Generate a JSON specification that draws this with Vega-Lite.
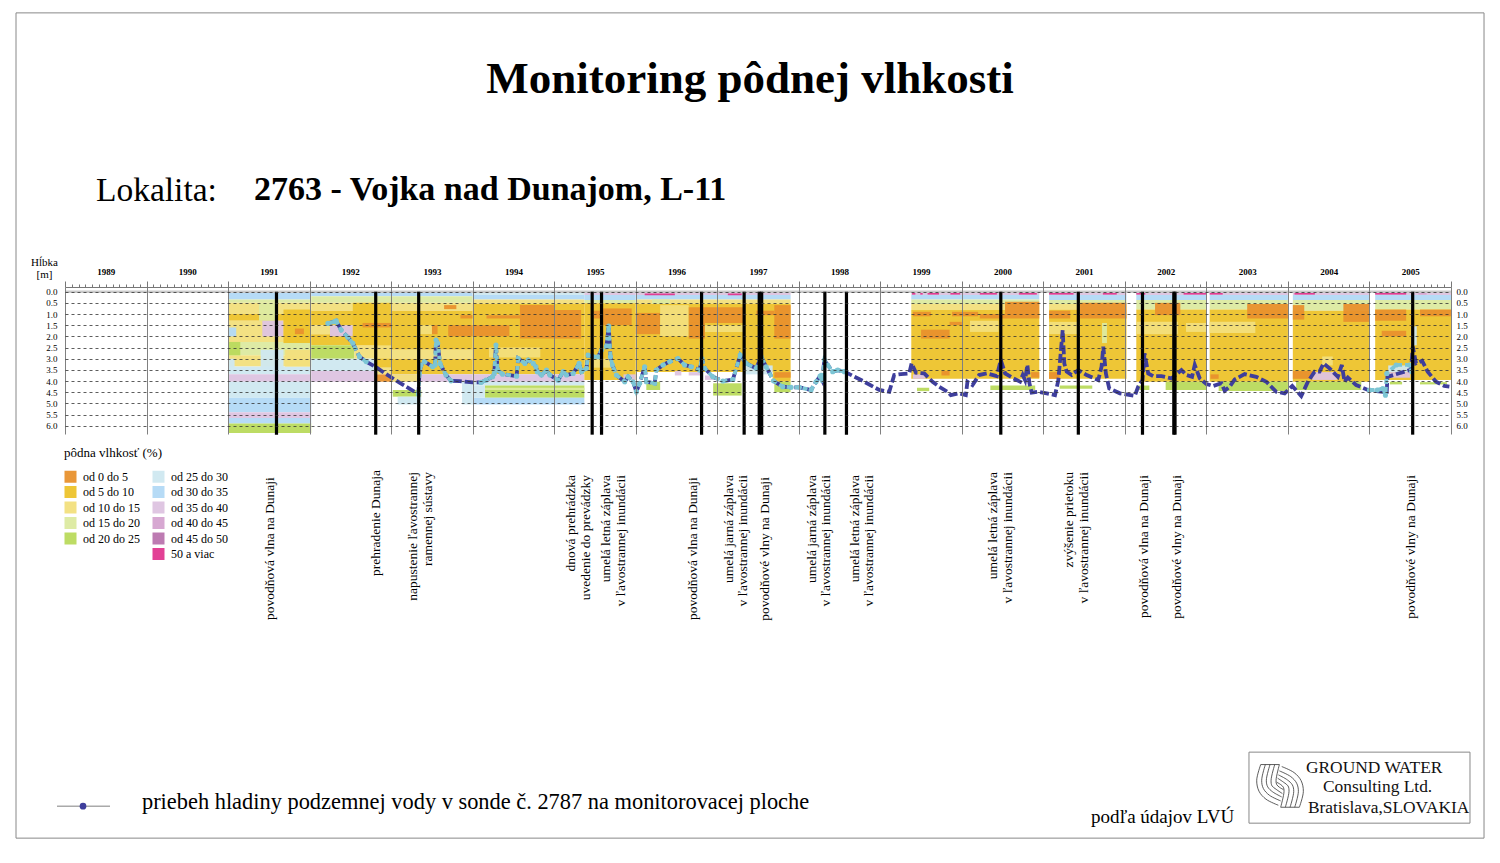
{"$schema":"https://vega.github.io/schema/vega-lite/v6.json","width":1386,"height":147,"autosize":"none","padding":{"left":65,"top":287,"right":49,"bottom":429},"background":"white","config":{"view":{"stroke":null},"font":"Liberation Serif","axis":{"labelFont":"Liberation Serif","titleFont":"Liberation Serif"},"legend":{"labelFont":"Liberation Serif","titleFont":"Liberation Serif"}},
"resolve":{"axis":{"x":"independent","y":"independent"}},
"datasets":{"hladina":[
{"year":1992.224,"depth":1.42,"seg":"a"},{"year":1992.306,"depth":1.34,"seg":"a"},{"year":1992.327,"depth":1.3,"seg":"a"},{"year":1992.388,"depth":1.72,"seg":"a"},{"year":1992.469,"depth":2.04,"seg":"a"},{"year":1992.531,"depth":2.31,"seg":"a"},{"year":1992.612,"depth":2.91,"seg":"a"},{"year":1992.694,"depth":3.13,"seg":"a"},{"year":1992.808,"depth":3.36},{"year":1992.939,"depth":3.69},{"year":1993.102,"depth":4.07},{"year":1993.335,"depth":4.58,"seg":"b"},{"year":1993.347,"depth":3.66,"seg":"b"},{"year":1993.367,"depth":3.28,"seg":"b"},{"year":1993.408,"depth":3.13,"seg":"b"},{"year":1993.51,"depth":3.36,"seg":"b"},{"year":1993.539,"depth":3.28,"seg":"b"},{"year":1993.551,"depth":2.16,"seg":"b"},{"year":1993.571,"depth":2.31,"seg":"b"},{"year":1993.6,"depth":3.21,"seg":"b"},{"year":1993.673,"depth":3.73,"seg":"b"},{"year":1993.735,"depth":3.99,"seg":"b"},{"year":1993.837,"depth":4.0},{"year":1994.0,"depth":4.06},{"year":1994.102,"depth":4.06,"seg":"c"},{"year":1994.163,"depth":3.96,"seg":"c"},{"year":1994.245,"depth":3.81,"seg":"c"},{"year":1994.265,"depth":3.66,"seg":"c"},{"year":1994.286,"depth":2.39,"seg":"c"},{"year":1994.306,"depth":3.51,"seg":"c"},{"year":1994.367,"depth":3.69,"seg":"c"},{"year":1994.539,"depth":3.78,"seg":"c"},{"year":1994.559,"depth":2.99,"seg":"c"},{"year":1994.641,"depth":3.21,"seg":"c"},{"year":1994.682,"depth":3.06,"seg":"c"},{"year":1994.743,"depth":3.21,"seg":"c"},{"year":1994.776,"depth":3.36,"seg":"c"},{"year":1994.792,"depth":3.58,"seg":"c"},{"year":1994.845,"depth":3.73,"seg":"c"},{"year":1994.906,"depth":3.51,"seg":"c"},{"year":1994.947,"depth":3.73,"seg":"c"},{"year":1995.049,"depth":3.96,"seg":"c"},{"year":1995.11,"depth":3.58,"seg":"c"},{"year":1995.151,"depth":3.73,"seg":"c"},{"year":1995.233,"depth":3.66,"seg":"c"},{"year":1995.306,"depth":3.21,"seg":"c"},{"year":1995.335,"depth":3.58,"seg":"c"},{"year":1995.396,"depth":3.43,"seg":"c"},{"year":1995.416,"depth":2.84,"seg":"c"},{"year":1995.478,"depth":2.91,"seg":"c"},{"year":1995.539,"depth":2.91,"seg":"c"},{"year":1995.58,"depth":2.61,"seg":"c"},{"year":1995.641,"depth":2.46,"seg":"c"},{"year":1995.669,"depth":1.54,"seg":"c"},{"year":1995.69,"depth":2.91,"seg":"c"},{"year":1995.714,"depth":3.28,"seg":"c"},{"year":1995.763,"depth":3.73,"seg":"c"},{"year":1995.865,"depth":4.03,"seg":"c"},{"year":1995.906,"depth":3.81,"seg":"c"},{"year":1995.967,"depth":4.03,"seg":"c"},{"year":1996.008,"depth":4.48,"seg":"c"},{"year":1996.049,"depth":4.1,"seg":"c"},{"year":1996.11,"depth":3.36,"seg":"c"},{"year":1996.131,"depth":4.03,"seg":"c"},{"year":1996.233,"depth":4.1,"seg":"c"},{"year":1996.253,"depth":3.51,"seg":"c"},{"year":1996.335,"depth":3.28,"seg":"c"},{"year":1996.416,"depth":3.13,"seg":"c"},{"year":1996.518,"depth":2.99,"seg":"c"},{"year":1996.6,"depth":3.28,"seg":"c"},{"year":1996.682,"depth":3.36,"seg":"c"},{"year":1996.784,"depth":3.51,"seg":"c"},{"year":1996.812,"depth":2.99,"seg":"c"},{"year":1996.845,"depth":3.43,"seg":"c"},{"year":1996.947,"depth":3.81,"seg":"c"},{"year":1997.069,"depth":4.0,"seg":"c"},{"year":1997.192,"depth":3.93,"seg":"c"},{"year":1997.282,"depth":2.84,"seg":"c"},{"year":1997.355,"depth":3.21,"seg":"c"},{"year":1997.478,"depth":3.43,"seg":"c"},{"year":1997.539,"depth":2.91,"seg":"c"},{"year":1997.6,"depth":3.36,"seg":"c"},{"year":1997.69,"depth":3.99,"seg":"c"},{"year":1997.804,"depth":4.25,"seg":"c"},{"year":1997.906,"depth":4.28,"seg":"c"},{"year":1998.008,"depth":4.28,"seg":"c"},{"year":1998.151,"depth":4.4,"seg":"c"},{"year":1998.212,"depth":4.03,"seg":"c"},{"year":1998.261,"depth":3.78,"seg":"c"},{"year":1998.286,"depth":3.96,"seg":"c"},{"year":1998.314,"depth":3.06,"seg":"c"},{"year":1998.355,"depth":3.28,"seg":"c"},{"year":1998.416,"depth":3.58,"seg":"c"},{"year":1998.478,"depth":3.51,"seg":"c"},{"year":1998.559,"depth":3.58,"seg":"c"},{"year":1998.784,"depth":3.99},{"year":1998.988,"depth":4.4},{"year":1999.11,"depth":4.48},{"year":1999.171,"depth":3.73},{"year":1999.253,"depth":3.69},{"year":1999.355,"depth":3.66},{"year":1999.384,"depth":3.21},{"year":1999.437,"depth":3.63},{"year":1999.539,"depth":3.66},{"year":1999.641,"depth":4.03},{"year":1999.722,"depth":4.25},{"year":1999.824,"depth":4.48},{"year":1999.865,"depth":4.63},{"year":1999.967,"depth":4.55},{"year":2000.049,"depth":4.63},{"year":2000.069,"depth":4.03},{"year":2000.131,"depth":4.18},{"year":2000.212,"depth":3.73},{"year":2000.306,"depth":3.66},{"year":2000.429,"depth":3.78},{"year":2000.478,"depth":3.06},{"year":2000.531,"depth":3.66},{"year":2000.633,"depth":3.88},{"year":2000.714,"depth":4.03},{"year":2000.747,"depth":3.73},{"year":2000.776,"depth":3.96},{"year":2000.804,"depth":3.28},{"year":2000.829,"depth":4.1},{"year":2000.857,"depth":4.52},{"year":2000.939,"depth":4.48},{"year":2001.041,"depth":4.55},{"year":2001.143,"depth":4.63},{"year":2001.184,"depth":3.96},{"year":2001.216,"depth":2.61},{"year":2001.237,"depth":1.72},{"year":2001.257,"depth":3.21},{"year":2001.286,"depth":3.58},{"year":2001.347,"depth":3.73},{"year":2001.429,"depth":3.51},{"year":2001.531,"depth":3.73},{"year":2001.673,"depth":3.96},{"year":2001.714,"depth":3.36},{"year":2001.735,"depth":2.46},{"year":2001.767,"depth":3.66},{"year":2001.808,"depth":4.33},{"year":2001.939,"depth":4.55},{"year":2002.122,"depth":4.66},{"year":2002.163,"depth":4.25},{"year":2002.216,"depth":3.96},{"year":2002.241,"depth":2.76},{"year":2002.286,"depth":3.66},{"year":2002.347,"depth":3.78},{"year":2002.449,"depth":3.78},{"year":2002.571,"depth":3.88},{"year":2002.694,"depth":3.51},{"year":2002.755,"depth":3.73},{"year":2002.824,"depth":3.81},{"year":2002.857,"depth":3.28},{"year":2002.918,"depth":3.88},{"year":2003.0,"depth":4.13},{"year":2003.082,"depth":4.22},{"year":2003.184,"depth":4.1},{"year":2003.224,"depth":4.43},{"year":2003.286,"depth":4.25},{"year":2003.347,"depth":3.93},{"year":2003.469,"depth":3.69},{"year":2003.612,"depth":3.81},{"year":2003.735,"depth":4.03},{"year":2003.857,"depth":4.48},{"year":2003.959,"depth":4.55},{"year":2004.053,"depth":4.22},{"year":2004.163,"depth":4.67},{"year":2004.245,"depth":4.03},{"year":2004.327,"depth":3.58},{"year":2004.388,"depth":3.58},{"year":2004.437,"depth":3.21},{"year":2004.51,"depth":3.43},{"year":2004.612,"depth":3.81},{"year":2004.661,"depth":3.28},{"year":2004.694,"depth":4.03},{"year":2004.735,"depth":3.84},{"year":2004.837,"depth":4.18},{"year":2004.98,"depth":4.4},{"year":2005.163,"depth":4.48},{"year":2005.212,"depth":4.48},{"year":2005.22,"depth":3.81},{"year":2005.49,"depth":3.51},{"year":2005.51,"depth":3.51},{"year":2005.531,"depth":2.46},{"year":2005.571,"depth":3.21},{"year":2005.645,"depth":3.09},{"year":2005.714,"depth":3.58},{"year":2005.816,"depth":4.03},{"year":2005.918,"depth":4.22},{"year":2005.98,"depth":4.25},
{"year":2005.0,"depth":4.4,"seg":"d"},{"year":2005.094,"depth":4.4,"seg":"d"},{"year":2005.163,"depth":4.33,"seg":"d"},{"year":2005.196,"depth":4.63,"seg":"d"},{"year":2005.212,"depth":3.66,"seg":"d"},{"year":2005.327,"depth":3.28,"seg":"d"},{"year":2005.49,"depth":3.28,"seg":"d"},{"year":2005.518,"depth":3.58,"seg":"d"}
],
"logo":[
{"year":2003.666,"depth":21.166,"k":"t"},{"year":2003.895,"depth":21.166,"k":"t"},{"year":2003.911,"depth":23.077,"k":"u"},{"year":2004.14,"depth":23.077,"k":"u"},
{"year":2003.666,"depth":21.166,"k":"0"},{"year":2003.617,"depth":21.868,"k":"0"},{"year":2003.645,"depth":22.36,"k":"0"},{"year":2003.731,"depth":22.718,"k":"0"},{"year":2003.882,"depth":22.987,"k":"0"},
{"year":2003.723,"depth":21.166,"k":"1"},{"year":2003.678,"depth":21.868,"k":"1"},{"year":2003.699,"depth":22.241,"k":"1"},{"year":2003.772,"depth":22.539,"k":"1"},{"year":2003.911,"depth":22.793,"k":"1"},
{"year":2003.78,"depth":21.166,"k":"2"},{"year":2003.735,"depth":21.868,"k":"2"},{"year":2003.752,"depth":22.166,"k":"2"},{"year":2003.813,"depth":22.39,"k":"2"},{"year":2003.923,"depth":22.614,"k":"2"},
{"year":2003.838,"depth":21.166,"k":"3"},{"year":2003.793,"depth":21.868,"k":"3"},{"year":2003.805,"depth":22.121,"k":"3"},{"year":2003.854,"depth":22.271,"k":"3"},{"year":2003.932,"depth":22.465,"k":"3"},
{"year":2003.895,"depth":21.166,"k":"4"},{"year":2003.854,"depth":21.868,"k":"4"},{"year":2003.862,"depth":22.062,"k":"4"},{"year":2003.895,"depth":22.181,"k":"4"},{"year":2003.944,"depth":22.285,"k":"4"},
{"year":2004.14,"depth":23.077,"k":"5"},{"year":2004.189,"depth":22.375,"k":"5"},{"year":2004.161,"depth":21.883,"k":"5"},{"year":2004.075,"depth":21.525,"k":"5"},{"year":2003.924,"depth":21.256,"k":"5"},
{"year":2004.083,"depth":23.077,"k":"6"},{"year":2004.128,"depth":22.375,"k":"6"},{"year":2004.107,"depth":22.002,"k":"6"},{"year":2004.034,"depth":21.704,"k":"6"},{"year":2003.895,"depth":21.45,"k":"6"},
{"year":2004.026,"depth":23.077,"k":"7"},{"year":2004.071,"depth":22.375,"k":"7"},{"year":2004.054,"depth":22.077,"k":"7"},{"year":2003.993,"depth":21.853,"k":"7"},{"year":2003.883,"depth":21.629,"k":"7"},
{"year":2003.968,"depth":23.077,"k":"8"},{"year":2004.013,"depth":22.375,"k":"8"},{"year":2004.001,"depth":22.122,"k":"8"},{"year":2003.952,"depth":21.972,"k":"8"},{"year":2003.874,"depth":21.778,"k":"8"},
{"year":2003.911,"depth":23.077,"k":"9"},{"year":2003.952,"depth":22.375,"k":"9"},{"year":2003.944,"depth":22.181,"k":"9"},{"year":2003.911,"depth":22.062,"k":"9"},{"year":2003.862,"depth":21.958,"k":"9"}
]},
"layer":[
{"data":{"values":[
{"from":1991,"to":1992.02,"top":0,"bot":0.35,"m":"od 30 do 35"},{"from":1991,"to":1992.02,"top":0.35,"bot":0.5,"m":"od 15 do 20"},{"from":1991,"to":1992.02,"top":0.5,"bot":1,"m":"od 10 do 15"},{"from":1991,"to":1992.02,"top":1,"bot":1.3,"m":"od 5 do 10"},{"from":1991,"to":1992.02,"top":1.3,"bot":2.25,"m":"od 10 do 15"},{"from":1991,"to":1992.02,"top":2.25,"bot":2.85,"m":"od 15 do 20"},{"from":1991,"to":1992.02,"top":2.85,"bot":3.35,"m":"od 10 do 15"},{"from":1991,"to":1992.02,"top":3.35,"bot":3.7,"m":"od 25 do 30"},{"from":1991,"to":1992.02,"top":3.7,"bot":4.03,"m":"od 35 do 40"},{"from":1991,"to":1992.02,"top":4.03,"bot":4.75,"m":"od 25 do 30"},{"from":1991,"to":1992.02,"top":4.75,"bot":5.4,"m":"od 30 do 35"},{"from":1991,"to":1992.02,"top":5.4,"bot":5.65,"m":"od 35 do 40"},{"from":1991,"to":1992.02,"top":5.65,"bot":5.9,"m":"od 30 do 35"},{"from":1991,"to":1992.02,"top":5.9,"bot":6.33,"m":"od 20 do 25"},
{"from":1991,"to":1991.1,"top":1.6,"bot":2,"m":"od 30 do 35"},{"from":1991,"to":1991.15,"top":2.25,"bot":2.85,"m":"od 20 do 25"},{"from":1991,"to":1991.08,"top":3,"bot":3.4,"m":"od 25 do 30"},{"from":1991.4,"to":1991.68,"top":2.6,"bot":3.5,"m":"od 25 do 30"},{"from":1991.38,"to":1991.6,"top":0.5,"bot":1.3,"m":"od 15 do 20"},{"from":1991.42,"to":1991.68,"top":1.3,"bot":2,"m":"od 35 do 40"},{"from":1991.68,"to":1992.02,"top":1.1,"bot":2.3,"m":"od 5 do 10"},{"from":1991.82,"to":1991.93,"top":1.65,"bot":1.9,"m":"od 0 do 5"},{"from":1991.7,"to":1992.02,"top":2.3,"bot":2.6,"m":"od 15 do 20"},{"from":1991.7,"to":1992.02,"top":2.6,"bot":3.35,"m":"od 10 do 15"},{"from":1991.68,"to":1992.02,"top":0.8,"bot":1.1,"m":"od 5 do 10"},
{"from":1992.02,"to":1992.8,"top":0,"bot":0.2,"m":"od 30 do 35"},{"from":1992.02,"to":1992.8,"top":0.2,"bot":0.5,"m":"od 15 do 20"},{"from":1992.02,"to":1992.8,"top":0.5,"bot":0.85,"m":"od 10 do 15"},{"from":1992.02,"to":1992.8,"top":0.85,"bot":1.5,"m":"od 5 do 10"},{"from":1992.02,"to":1992.8,"top":1.5,"bot":1.9,"m":"od 10 do 15"},{"from":1992.02,"to":1992.8,"top":1.9,"bot":2.4,"m":"od 5 do 10"},{"from":1992.02,"to":1992.55,"top":2.4,"bot":3,"m":"od 20 do 25"},{"from":1992.55,"to":1992.8,"top":2.4,"bot":3,"m":"od 10 do 15"},{"from":1992.02,"to":1992.8,"top":3,"bot":3.55,"m":"od 25 do 30"},{"from":1992.02,"to":1992.8,"top":3.55,"bot":4.03,"m":"od 35 do 40"},{"from":1992.25,"to":1992.53,"top":1.5,"bot":2,"m":"od 35 do 40"},{"from":1992.53,"to":1992.8,"top":0.5,"bot":2.4,"m":"od 5 do 10"},{"from":1992.65,"to":1992.8,"top":1.4,"bot":1.6,"m":"od 0 do 5"},
{"from":1992.8,"to":1993,"top":0,"bot":0.2,"m":"od 30 do 35"},{"from":1992.8,"to":1993,"top":0.2,"bot":0.5,"m":"od 15 do 20"},{"from":1992.8,"to":1993,"top":0.5,"bot":3.4,"m":"od 5 do 10"},{"from":1992.8,"to":1993,"top":1.4,"bot":1.6,"m":"od 0 do 5"},{"from":1992.8,"to":1993,"top":2.4,"bot":3,"m":"od 10 do 15"},{"from":1992.8,"to":1993,"top":3.4,"bot":3.7,"m":"od 10 do 15"},{"from":1992.8,"to":1993,"top":3.7,"bot":4.03,"m":"od 0 do 5"},
{"from":1993,"to":1994,"top":0,"bot":0.2,"m":"od 30 do 35"},{"from":1993,"to":1994,"top":0.2,"bot":0.5,"m":"od 15 do 20"},{"from":1993,"to":1994,"top":0.5,"bot":0.85,"m":"od 10 do 15"},{"from":1993,"to":1994,"top":0.85,"bot":2.6,"m":"od 5 do 10"},{"from":1993,"to":1994,"top":2.6,"bot":3,"m":"od 10 do 15"},{"from":1993,"to":1994,"top":3,"bot":3.7,"m":"od 5 do 10"},{"from":1993,"to":1994,"top":3.7,"bot":4.03,"m":"od 35 do 40"},{"from":1993,"to":1993.35,"top":3.7,"bot":4.03,"m":"od 10 do 15"},{"from":1993.65,"to":1993.8,"top":0.6,"bot":0.78,"m":"od 0 do 5"},{"from":1993.7,"to":1994,"top":1.5,"bot":2,"m":"od 0 do 5"},{"from":1993.5,"to":1993.57,"top":1.5,"bot":1.9,"m":"od 0 do 5"},{"from":1993.35,"to":1993.5,"top":1.5,"bot":1.9,"m":"od 10 do 15"},{"from":1993.85,"to":1994,"top":1.05,"bot":1.2,"m":"od 0 do 5"},{"from":1993.02,"to":1993.37,"top":4.4,"bot":4.7,"m":"od 20 do 25"},{"from":1993.08,"to":1993.37,"top":4.7,"bot":5.05,"m":"od 25 do 30"},{"from":1993.87,"to":1994,"top":4.03,"bot":5.05,"m":"od 25 do 30"},
{"from":1994,"to":1995.37,"top":0,"bot":0.15,"m":"od 25 do 30"},{"from":1994,"to":1995.37,"top":0.15,"bot":0.35,"m":"od 30 do 35"},{"from":1994,"to":1995.37,"top":0.35,"bot":0.55,"m":"od 10 do 15"},{"from":1994,"to":1995.37,"top":0.55,"bot":3.7,"m":"od 5 do 10"},{"from":1994,"to":1995.37,"top":3.7,"bot":4.03,"m":"od 35 do 40"},{"from":1994,"to":1994.45,"top":1.5,"bot":2,"m":"od 0 do 5"},{"from":1994.17,"to":1994.58,"top":1.05,"bot":1.2,"m":"od 0 do 5"},{"from":1994.58,"to":1995,"top":0.6,"bot":2.1,"m":"od 0 do 5"},{"from":1995,"to":1995.33,"top":0.82,"bot":2.1,"m":"od 0 do 5"},{"from":1994.2,"to":1994.83,"top":2.5,"bot":2.95,"m":"od 10 do 15"},{"from":1994,"to":1995.37,"top":4.03,"bot":4.2,"m":"od 25 do 30"},{"from":1994.15,"to":1995.37,"top":4.2,"bot":4.75,"m":"od 20 do 25"},{"from":1994.15,"to":1995.37,"top":4.3,"bot":4.4,"m":"od 15 do 20"},{"from":1994,"to":1995.37,"top":4.75,"bot":5.05,"m":"od 30 do 35"},{"from":1994,"to":1994.15,"top":4.2,"bot":4.75,"m":"od 25 do 30"},
{"from":1995.37,"to":1996,"top":0,"bot":0.15,"m":"od 35 do 40"},{"from":1995.37,"to":1996,"top":0.15,"bot":0.37,"m":"od 30 do 35"},{"from":1995.37,"to":1996,"top":0.37,"bot":0.52,"m":"od 15 do 20"},{"from":1995.37,"to":1996,"top":0.52,"bot":3.95,"m":"od 5 do 10"},{"from":1995.6,"to":1995.95,"top":0.75,"bot":1.5,"m":"od 0 do 5"},{"from":1995.48,"to":1995.6,"top":0.85,"bot":1.2,"m":"od 0 do 5"},{"from":1995.48,"to":1995.7,"top":3,"bot":3.4,"m":"od 10 do 15"},{"from":1995.85,"to":1996,"top":3.7,"bot":3.95,"m":"od 35 do 40"},
{"from":1996,"to":1997.9,"top":0,"bot":0.15,"m":"od 35 do 40"},{"from":1996,"to":1997.9,"top":0.15,"bot":0.35,"m":"od 30 do 35"},{"from":1996,"to":1997.9,"top":0.35,"bot":0.55,"m":"od 10 do 15"},{"from":1996,"to":1997.9,"top":0.55,"bot":3.6,"m":"od 5 do 10"},{"from":1997.68,"to":1997.9,"top":3.6,"bot":4.03,"m":"od 5 do 10"},{"from":1996.11,"to":1996.48,"top":0.08,"bot":0.16,"m":"50 a viac"},{"from":1997.13,"to":1997.3,"top":0.08,"bot":0.16,"m":"50 a viac"},{"from":1996.2,"to":1996.42,"top":0.35,"bot":0.55,"m":"od 15 do 20"},{"from":1996,"to":1996.3,"top":0.95,"bot":1.9,"m":"od 0 do 5"},{"from":1996.3,"to":1996.65,"top":0.6,"bot":2,"m":"od 10 do 15"},{"from":1996.65,"to":1997.33,"top":0.7,"bot":1.4,"m":"od 0 do 5"},{"from":1996.65,"to":1996.85,"top":1.4,"bot":2.1,"m":"od 0 do 5"},{"from":1996.85,"to":1997.33,"top":1.5,"bot":1.8,"m":"od 10 do 15"},{"from":1997.48,"to":1997.7,"top":0.85,"bot":1.05,"m":"od 0 do 5"},{"from":1997.7,"to":1997.9,"top":0.6,"bot":2.1,"m":"od 0 do 5"},{"from":1997.7,"to":1997.9,"top":3.6,"bot":3.85,"m":"od 0 do 5"},{"from":1997.33,"to":1997.68,"top":3.3,"bot":3.7,"m":"od 25 do 30"},{"from":1996.13,"to":1996.3,"top":4.03,"bot":4.4,"m":"od 20 do 25"},{"from":1996.95,"to":1997.3,"top":4.1,"bot":4.65,"m":"od 20 do 25"},{"from":1997.7,"to":1997.9,"top":4.03,"bot":4.5,"m":"od 20 do 25"},{"from":1996.48,"to":1996.56,"top":3.55,"bot":3.75,"m":"od 35 do 40"},{"from":1996.65,"to":1996.8,"top":3.6,"bot":3.75,"m":"od 35 do 40"},{"from":1996.85,"to":1996.97,"top":3.75,"bot":3.95,"m":"od 35 do 40"},
{"from":1999.38,"to":2000.95,"top":0,"bot":0.15,"m":"od 35 do 40"},{"from":1999.38,"to":2000.95,"top":0.15,"bot":0.35,"m":"od 30 do 35"},{"from":1999.38,"to":2000.95,"top":0.35,"bot":0.55,"m":"od 15 do 20"},{"from":1999.38,"to":2000.95,"top":0.55,"bot":0.82,"m":"od 10 do 15"},{"from":1999.38,"to":2000.95,"top":0.82,"bot":3.9,"m":"od 5 do 10"},{"from":1999.39,"to":1999.43,"top":0.05,"bot":0.13,"m":"50 a viac"},{"from":1999.49,"to":1999.52,"top":0.05,"bot":0.13,"m":"50 a viac"},{"from":1999.58,"to":1999.72,"top":0.05,"bot":0.13,"m":"50 a viac"},{"from":1999.86,"to":1999.98,"top":0.05,"bot":0.13,"m":"50 a viac"},{"from":2000.22,"to":2000.43,"top":0.05,"bot":0.13,"m":"50 a viac"},{"from":2000.7,"to":2000.92,"top":0.05,"bot":0.13,"m":"50 a viac"},{"from":1999.4,"to":1999.62,"top":0.9,"bot":1.1,"m":"od 0 do 5"},{"from":1999.88,"to":2000.2,"top":0.9,"bot":1.1,"m":"od 0 do 5"},{"from":1999.5,"to":1999.85,"top":1.7,"bot":2.1,"m":"od 0 do 5"},{"from":1999.85,"to":2000,"top":1.35,"bot":1.5,"m":"od 0 do 5"},{"from":2000.1,"to":2000.45,"top":1.3,"bot":1.8,"m":"od 10 do 15"},{"from":2000.53,"to":2000.95,"top":0.45,"bot":1.2,"m":"od 0 do 5"},{"from":2000.22,"to":2000.53,"top":1,"bot":1.2,"m":"od 0 do 5"},{"from":1999.4,"to":1999.55,"top":3.7,"bot":3.9,"m":"od 35 do 40"},{"from":1999.75,"to":1999.85,"top":3.55,"bot":3.75,"m":"od 0 do 5"},{"from":2000.85,"to":2000.95,"top":3.6,"bot":3.85,"m":"od 0 do 5"},{"from":1999.45,"to":1999.6,"top":4.3,"bot":4.45,"m":"od 20 do 25"},{"from":2000.35,"to":2000.9,"top":4.2,"bot":4.4,"m":"od 20 do 25"},
{"from":2001.07,"to":2002.02,"top":0,"bot":0.15,"m":"od 35 do 40"},{"from":2001.07,"to":2002.02,"top":0.15,"bot":0.37,"m":"od 30 do 35"},{"from":2001.07,"to":2002.02,"top":0.37,"bot":0.55,"m":"od 15 do 20"},{"from":2001.07,"to":2002.02,"top":0.55,"bot":0.8,"m":"od 10 do 15"},{"from":2001.07,"to":2002.02,"top":0.8,"bot":3.9,"m":"od 5 do 10"},{"from":2001.07,"to":2001.37,"top":0.05,"bot":0.13,"m":"50 a viac"},{"from":2001.73,"to":2001.9,"top":0.05,"bot":0.13,"m":"50 a viac"},{"from":2001.07,"to":2001.33,"top":0.85,"bot":1.2,"m":"od 0 do 5"},{"from":2001.45,"to":2002.02,"top":0.5,"bot":1.2,"m":"od 0 do 5"},{"from":2001.07,"to":2001.45,"top":1.35,"bot":1.9,"m":"od 10 do 15"},{"from":2001.72,"to":2001.78,"top":1.4,"bot":2.3,"m":"od 15 do 20"},{"from":2001.07,"to":2001.2,"top":3.6,"bot":3.9,"m":"od 0 do 5"},{"from":2001.2,"to":2001.6,"top":4.2,"bot":4.35,"m":"od 20 do 25"},
{"from":2002.14,"to":2003,"top":0,"bot":0.15,"m":"od 35 do 40"},{"from":2002.14,"to":2003,"top":0.15,"bot":0.37,"m":"od 30 do 35"},{"from":2002.14,"to":2003,"top":0.37,"bot":0.8,"m":"od 15 do 20"},{"from":2002.14,"to":2003,"top":0.8,"bot":4.03,"m":"od 5 do 10"},{"from":2002.14,"to":2002.25,"top":0.05,"bot":0.13,"m":"50 a viac"},{"from":2002.72,"to":2003,"top":0.05,"bot":0.13,"m":"50 a viac"},{"from":2002.37,"to":2002.68,"top":0.5,"bot":1.05,"m":"od 0 do 5"},{"from":2002.14,"to":2002.65,"top":1.35,"bot":1.9,"m":"od 10 do 15"},{"from":2002.75,"to":2003,"top":1.4,"bot":1.8,"m":"od 10 do 15"},{"from":2002.5,"to":2003,"top":4.03,"bot":4.4,"m":"od 20 do 25"},{"from":2002.15,"to":2002.3,"top":4.2,"bot":4.4,"m":"od 20 do 25"},
{"from":2003.04,"to":2004,"top":0,"bot":0.15,"m":"od 35 do 40"},{"from":2003.04,"to":2004,"top":0.15,"bot":0.37,"m":"od 30 do 35"},{"from":2003.04,"to":2004,"top":0.37,"bot":0.8,"m":"od 15 do 20"},{"from":2003.04,"to":2004,"top":0.8,"bot":4.03,"m":"od 5 do 10"},{"from":2003.04,"to":2003.2,"top":0.05,"bot":0.13,"m":"50 a viac"},{"from":2003.5,"to":2004,"top":0.55,"bot":1.2,"m":"od 0 do 5"},{"from":2003.04,"to":2003.6,"top":1.35,"bot":1.85,"m":"od 10 do 15"},{"from":2003.05,"to":2003.15,"top":3.7,"bot":3.9,"m":"od 0 do 5"},{"from":2003.15,"to":2004,"top":4.03,"bot":4.45,"m":"od 20 do 25"},
{"from":2004.06,"to":2005,"top":0,"bot":0.15,"m":"od 35 do 40"},{"from":2004.06,"to":2005,"top":0.15,"bot":0.37,"m":"od 30 do 35"},{"from":2004.06,"to":2005,"top":0.37,"bot":0.85,"m":"od 15 do 20"},{"from":2004.06,"to":2005,"top":0.85,"bot":4.03,"m":"od 5 do 10"},{"from":2004.08,"to":2004.33,"top":0.05,"bot":0.13,"m":"50 a viac"},{"from":2004.06,"to":2004.2,"top":0.6,"bot":1.25,"m":"od 0 do 5"},{"from":2004.68,"to":2005,"top":0.55,"bot":1.35,"m":"od 0 do 5"},{"from":2004.06,"to":2004.3,"top":3.55,"bot":3.9,"m":"od 0 do 5"},{"from":2004.3,"to":2004.6,"top":3.6,"bot":3.95,"m":"od 35 do 40"},{"from":2004.42,"to":2004.55,"top":2.9,"bot":3.3,"m":"od 10 do 15"},{"from":2004.1,"to":2004.9,"top":4.03,"bot":4.4,"m":"od 20 do 25"},
{"from":2005.07,"to":2006,"top":0,"bot":0.15,"m":"od 35 do 40"},{"from":2005.07,"to":2006,"top":0.15,"bot":0.37,"m":"od 30 do 35"},{"from":2005.07,"to":2006,"top":0.37,"bot":0.8,"m":"od 15 do 20"},{"from":2005.07,"to":2006,"top":0.8,"bot":3.95,"m":"od 5 do 10"},{"from":2005.07,"to":2005.45,"top":0.05,"bot":0.13,"m":"50 a viac"},{"from":2005.6,"to":2005.7,"top":0.05,"bot":0.13,"m":"od 40 do 45"},{"from":2005.07,"to":2005.45,"top":0.8,"bot":1.3,"m":"od 0 do 5"},{"from":2005.62,"to":2006,"top":0.8,"bot":1.1,"m":"od 0 do 5"},{"from":2005.15,"to":2005.45,"top":1.75,"bot":2,"m":"od 0 do 5"},{"from":2005.51,"to":2005.58,"top":1.55,"bot":2.4,"m":"od 25 do 30"},{"from":2005.23,"to":2005.5,"top":3.3,"bot":3.6,"m":"od 25 do 30"},{"from":2005.23,"to":2005.5,"top":3.6,"bot":3.85,"m":"od 35 do 40"},{"from":2005.25,"to":2005.4,"top":4.03,"bot":4.15,"m":"od 20 do 25"},{"from":2005.62,"to":2005.95,"top":4.05,"bot":4.15,"m":"od 20 do 25"}
]},"mark":{"type":"rect","opacity":0.95},"encoding":{
"x":{"field":"from","type":"quantitative","scale":{"domain":[1989,2006],"nice":false,"zero":false},"axis":{"orient":"top","title":null,"labels":false,"grid":false,"tickSize":3,"tickColor":"#777","domainColor":"#777","values":[1989.083,1989.167,1989.25,1989.333,1989.417,1989.5,1989.583,1989.667,1989.75,1989.833,1989.917,1990.083,1990.167,1990.25,1990.333,1990.417,1990.5,1990.583,1990.667,1990.75,1990.833,1990.917,1991.083,1991.167,1991.25,1991.333,1991.417,1991.5,1991.583,1991.667,1991.75,1991.833,1991.917,1992.083,1992.167,1992.25,1992.333,1992.417,1992.5,1992.583,1992.667,1992.75,1992.833,1992.917,1993.083,1993.167,1993.25,1993.333,1993.417,1993.5,1993.583,1993.667,1993.75,1993.833,1993.917,1994.083,1994.167,1994.25,1994.333,1994.417,1994.5,1994.583,1994.667,1994.75,1994.833,1994.917,1995.083,1995.167,1995.25,1995.333,1995.417,1995.5,1995.583,1995.667,1995.75,1995.833,1995.917,1996.083,1996.167,1996.25,1996.333,1996.417,1996.5,1996.583,1996.667,1996.75,1996.833,1996.917,1997.083,1997.167,1997.25,1997.333,1997.417,1997.5,1997.583,1997.667,1997.75,1997.833,1997.917,1998.083,1998.167,1998.25,1998.333,1998.417,1998.5,1998.583,1998.667,1998.75,1998.833,1998.917,1999.083,1999.167,1999.25,1999.333,1999.417,1999.5,1999.583,1999.667,1999.75,1999.833,1999.917,2000.083,2000.167,2000.25,2000.333,2000.417,2000.5,2000.583,2000.667,2000.75,2000.833,2000.917,2001.083,2001.167,2001.25,2001.333,2001.417,2001.5,2001.583,2001.667,2001.75,2001.833,2001.917,2002.083,2002.167,2002.25,2002.333,2002.417,2002.5,2002.583,2002.667,2002.75,2002.833,2002.917,2003.083,2003.167,2003.25,2003.333,2003.417,2003.5,2003.583,2003.667,2003.75,2003.833,2003.917,2004.083,2004.167,2004.25,2004.333,2004.417,2004.5,2004.583,2004.667,2004.75,2004.833,2004.917,2005.083,2005.167,2005.25,2005.333,2005.417,2005.5,2005.583,2005.667,2005.75,2005.833,2005.917]}},
"x2":{"field":"to"},
"y":{"field":"top","type":"quantitative","scale":{"domain":[-0.21,6.37],"nice":false,"zero":false,"reverse":true},"axis":{"orient":"left","title":["Hĺbka","[m]"],"titleAngle":0,"titleAlign":"center","titleBaseline":"alphabetic","titleX":-21,"titleY":-22,"titleFontSize":11,"titleFontWeight":"normal","titleLineHeight":12,"values":[0,0.5,1,1.5,2,2.5,3,3.5,4,4.5,5,5.5,6],"format":".1f","labelFontSize":9,"labelPadding":8,"labelColor":"black","ticks":false,"domain":false,"grid":true,"gridColor":"#333","gridDash":[3,3],"gridWidth":0.8,"zindex":1}},
"y2":{"field":"bot"},
"fill":{"field":"m","type":"nominal","scale":{"domain":["od 0 do 5","od 5 do 10","od 10 do 15","od 15 do 20","od 20 do 25"," ","od 25 do 30","od 30 do 35","od 35 do 40","od 40 do 45","od 45 do 50","50 a viac"],"range":["#E8912D","#EDC32B","#F2DF7C","#DCEAA0","#B9DA5C","#FFFFFF","#CFE8F0","#B2D9F5","#DDC3E0","#D5A3D0","#B974AE","#E0378F"]},"legend":{"orient":"none","legendX":-1,"legendY":160,"columns":2,"title":"pôdna vlhkosť (%)","titleFontSize":13,"titleFontWeight":"normal","titleColor":"black","titlePadding":10,"labelFontSize":12,"labelColor":"black","labelOffset":6,"symbolType":"square","symbolSize":144,"symbolStrokeWidth":0.8,"columnPadding":12,"rowPadding":2.5,"values":["od 0 do 5","od 5 do 10","od 10 do 15","od 15 do 20","od 20 do 25"," ","od 25 do 30","od 30 do 35","od 35 do 40","od 40 do 45","od 45 do 50","50 a viac"],"encode":{"symbols":{"update":{"stroke":[{"test":"datum.label===' '","value":"transparent"},{"value":"#888"}]}}}}}
}},
{"data":{"values":[{"from":1989,"to":2006,"depth":0}]},"mark":{"type":"rule","stroke":"#c9c9c9","strokeWidth":2.5},"encoding":{"x":{"field":"from","type":"quantitative","axis":null},"x2":{"field":"to"},"y":{"field":"depth","type":"quantitative","axis":null}}},
{"data":{"name":"hladina"},"transform":[{"filter":"datum.seg !== 'd'"}],"mark":{"type":"line","stroke":"#3E3E9C","strokeWidth":3.8,"strokeDash":[9,3]},"encoding":{"x":{"field":"year","type":"quantitative","axis":{"orient":"top","title":null,"values":[1989.5,1990.5,1991.5,1992.5,1993.5,1994.5,1995.5,1996.5,1997.5,1998.5,1999.5,2000.5,2001.5,2002.5,2003.5,2004.5,2005.5],"labelExpr":"floor(datum.value)","labelFontSize":9,"labelFontWeight":"bold","labelColor":"black","ticks":false,"domain":false,"grid":false,"labelPadding":11}},"y":{"field":"depth","type":"quantitative","axis":null}}},
{"data":{"name":"hladina"},"transform":[{"filter":"isValid(datum.seg)"}],"mark":{"type":"line","stroke":"#7CC5D4","strokeWidth":3.8,"strokeDash":[5,3]},"encoding":{"x":{"field":"year","type":"quantitative","axis":null},"y":{"field":"depth","type":"quantitative","axis":null},"detail":{"field":"seg"}}},
{"data":{"name":"hladina"},"transform":[{"filter":"isValid(datum.seg)"}],"mark":{"type":"point","filled":true,"fill":"#7CC5D4","opacity":1,"size":26},"encoding":{"x":{"field":"year","type":"quantitative","axis":null},"y":{"field":"depth","type":"quantitative","axis":null}}},
{"data":{"values":[{"year":1991.594,"top":0,"bot":6.4},{"year":1992.811,"top":0,"bot":6.4},{"year":1993.338,"top":0,"bot":6.4},{"year":1995.466,"top":0,"bot":6.4},{"year":1995.581,"top":0,"bot":6.4},{"year":1996.808,"top":0,"bot":6.4},{"year":1997.33,"top":0,"bot":6.4},{"year":1997.515,"top":0,"bot":6.4},{"year":1997.545,"top":0,"bot":6.4},{"year":1998.32,"top":0,"bot":6.4},{"year":1998.585,"top":0,"bot":6.4},{"year":2000.478,"top":0,"bot":6.4},{"year":2001.429,"top":0,"bot":6.4},{"year":2002.216,"top":0,"bot":6.4},{"year":2002.6,"top":0,"bot":6.4},{"year":2002.615,"top":0,"bot":6.4},{"year":2005.53,"top":0,"bot":6.4}]},"mark":{"type":"rule","stroke":"black","strokeWidth":3.2},"encoding":{"x":{"field":"year","type":"quantitative","axis":{"orient":"top","title":null,"labels":false,"values":[1989,1990,1991,1992,1993,1994,1995,1996,1997,1998,1999,2000,2001,2002,2003,2004,2005,2006],"tickSize":6,"tickColor":"#777","domain":false,"grid":true,"gridColor":"#808080","gridWidth":1,"zindex":1}},"y":{"field":"top","type":"quantitative","axis":{"orient":"right","title":null,"values":[0,0.5,1,1.5,2,2.5,3,3.5,4,4.5,5,5.5,6],"format":".1f","labelFontSize":9,"labelPadding":5,"labelColor":"black","ticks":false,"domain":false,"grid":false}},"y2":{"field":"bot"}}},
{"data":{"values":[
{"year":1991.512,"depth":8.3,"t":["povodňová vlna na Dunaji"]},{"year":1992.811,"depth":7.98,"t":["prehradenie Dunaja"]},{"year":1993.268,"depth":8.07,"t":["napustenie ľavostrannej","ramennej sústavy"]},{"year":1995.204,"depth":8.21,"t":["dnová prehrádzka","uvedenie do prevádzky"]},{"year":1995.633,"depth":8.21,"t":["umelá letná záplava","v ľavostrannej inundácii"]},{"year":1996.708,"depth":8.3,"t":["povodňová vlna na Dunaji"]},{"year":1997.14,"depth":8.21,"t":["umelá jarná záplava","v ľavostrannej inundácii"]},{"year":1997.591,"depth":8.3,"t":["povodňové vlny na Dunaji"]},{"year":1998.157,"depth":8.21,"t":["umelá jarná záplava","v ľavostrannej inundácii"]},{"year":1998.684,"depth":8.21,"t":["umelá letná záplava","v ľavostrannej inundácii"]},{"year":2000.388,"depth":8.07,"t":["umelá letná záplava","v ľavostrannej inundácii"]},{"year":2001.319,"depth":8.07,"t":["zvýšenie prietoku","v ľavostrannej inundácii"]},{"year":2002.235,"depth":8.21,"t":["povodňová vlna na Dunaji"]},{"year":2002.64,"depth":8.21,"t":["povodňové vlny na Dunaji"]},{"year":2005.507,"depth":8.21,"t":["povodňové vlny na Dunaji"]}
]},"mark":{"type":"text","font":"Liberation Serif","fontSize":13.5,"angle":270,"align":"right","baseline":"middle","lineHeight":14.8,"color":"black"},"encoding":{"x":{"field":"year","type":"quantitative","axis":null},"y":{"field":"depth","type":"quantitative","axis":null},"text":{"field":"t"}}},
{"data":{"values":[{"year":1997.402,"depth":-8.9,"t":"Monitoring pôdnej vlhkosti"}]},"mark":{"type":"text","fontSize":45,"fontWeight":"bold","align":"center","baseline":"alphabetic","color":"black"},"encoding":{"x":{"field":"year","type":"quantitative","axis":null},"y":{"field":"depth","type":"quantitative","axis":null},"text":{"field":"t"}}},
{"data":{"values":[{"year":1989.38,"depth":-4.06,"t":"Lokalita:"}]},"mark":{"type":"text","fontSize":33.5,"align":"left","baseline":"alphabetic","color":"black"},"encoding":{"x":{"field":"year","type":"quantitative","axis":null},"y":{"field":"depth","type":"quantitative","axis":null},"text":{"field":"t"}}},
{"data":{"values":[{"year":1991.318,"depth":-4.11,"t":"2763 - Vojka nad Dunajom, L-11"}]},"mark":{"type":"text","fontSize":34,"fontWeight":"bold","align":"left","baseline":"alphabetic","color":"black"},"encoding":{"x":{"field":"year","type":"quantitative","axis":null},"y":{"field":"depth","type":"quantitative","axis":null},"text":{"field":"t"}}},
{"data":{"values":[{"year":1989.944,"depth":23.16,"t":"priebeh hladiny podzemnej vody v sonde č. 2787 na monitorovacej ploche"}]},"mark":{"type":"text","fontSize":22.4,"align":"left","baseline":"alphabetic","color":"black"},"encoding":{"x":{"field":"year","type":"quantitative","axis":null},"y":{"field":"depth","type":"quantitative","axis":null},"text":{"field":"t"}}},
{"data":{"values":[{"year":2001.584,"depth":23.79,"t":"podľa údajov LVÚ"}]},"mark":{"type":"text","fontSize":19,"align":"left","baseline":"alphabetic","color":"black"},"encoding":{"x":{"field":"year","type":"quantitative","axis":null},"y":{"field":"depth","type":"quantitative","axis":null},"text":{"field":"t"}}},
{"data":{"values":[{"year":2004.221,"depth":21.55,"t":"GROUND WATER"},{"year":2004.43,"depth":22.4,"t":"Consulting Ltd."},{"year":2004.245,"depth":23.35,"t":"Bratislava,SLOVAKIA"}]},"mark":{"type":"text","fontSize":17.4,"align":"left","baseline":"alphabetic","color":"#111"},"encoding":{"x":{"field":"year","type":"quantitative","axis":null},"y":{"field":"depth","type":"quantitative","axis":null},"text":{"field":"t"}}},
{"data":{"values":[{"from":1988.902,"to":1989.552,"depth":23.03}]},"mark":{"type":"rule","stroke":"#aaaaaa","strokeWidth":1.5},"encoding":{"x":{"field":"from","type":"quantitative","axis":null},"x2":{"field":"to"},"y":{"field":"depth","type":"quantitative","axis":null}}},
{"data":{"values":[{"year":1989.221,"depth":23.03}]},"mark":{"type":"point","filled":true,"fill":"#3E3E9C","opacity":1,"size":45},"encoding":{"x":{"field":"year","type":"quantitative","axis":null},"y":{"field":"depth","type":"quantitative","axis":null}}},
{"data":{"values":[{"from":1988.399,"to":2006.405,"top":-12.48,"bot":24.46},{"from":2003.522,"to":2006.233,"top":20.61,"bot":23.79}]},"mark":{"type":"rect","filled":false,"stroke":"#888888","strokeWidth":1},"encoding":{"x":{"field":"from","type":"quantitative","axis":null},"x2":{"field":"to"},"y":{"field":"top","type":"quantitative","axis":null},"y2":{"field":"bot"}}},
{"data":{"name":"logo"},"mark":{"type":"line","stroke":"#333","strokeWidth":0.8,"interpolate":"catmull-rom"},"encoding":{"x":{"field":"year","type":"quantitative","axis":null},"y":{"field":"depth","type":"quantitative","axis":null},"detail":{"field":"k"},"order":{"value":null}}}
]}
